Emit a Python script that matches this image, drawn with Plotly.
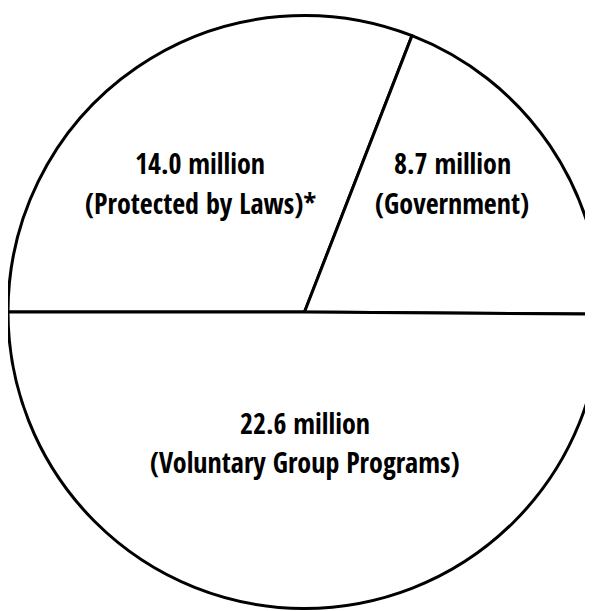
import plotly.graph_objects as go

# Data (millions)
categories = ["Protected by Laws", "Government", "Voluntary Group Programs"]
values = [14.0, 8.7, 22.6]
footnotes = ["*", "", ""]

fig = go.Figure(
    go.Pie(
        labels=categories,
        values=values,
        sort=False,
        direction="clockwise",
        rotation=-90,
        marker=dict(colors=["white"] * len(values), line=dict(color="black", width=3)),
        textinfo="none",
        hoverinfo="label+value",
        showlegend=False,
        domain=dict(x=[0, 1], y=[0.005, 1]),
    )
)

# Label placement (paper coordinates) for each slice: (x, y of value line, y of name line)
label_pos = [(0.324, 0.746, 0.681), (0.749, 0.746, 0.681), (0.501, 0.321, 0.257)]
font = dict(family="Open Sans Condensed, Roboto Condensed, sans-serif", size=28,
            color="black", weight="bold")

for cat, val, note, (lx, ly1, ly2) in zip(categories, values, footnotes, label_pos):
    fig.add_annotation(x=lx, y=ly1, xref="paper", yref="paper", showarrow=False,
                       xanchor="center", yanchor="middle", text=f"{val:.1f} million", font=font)
    fig.add_annotation(x=lx, y=ly2, xref="paper", yref="paper", showarrow=False,
                       xanchor="center", yanchor="middle", text=f"({cat}){note}", font=font)

fig.update_layout(
    width=593,
    height=611,
    margin=dict(l=0, r=0, t=0, b=0),
    paper_bgcolor="white",
    plot_bgcolor="white",
)

fig.write_html("out.html")
